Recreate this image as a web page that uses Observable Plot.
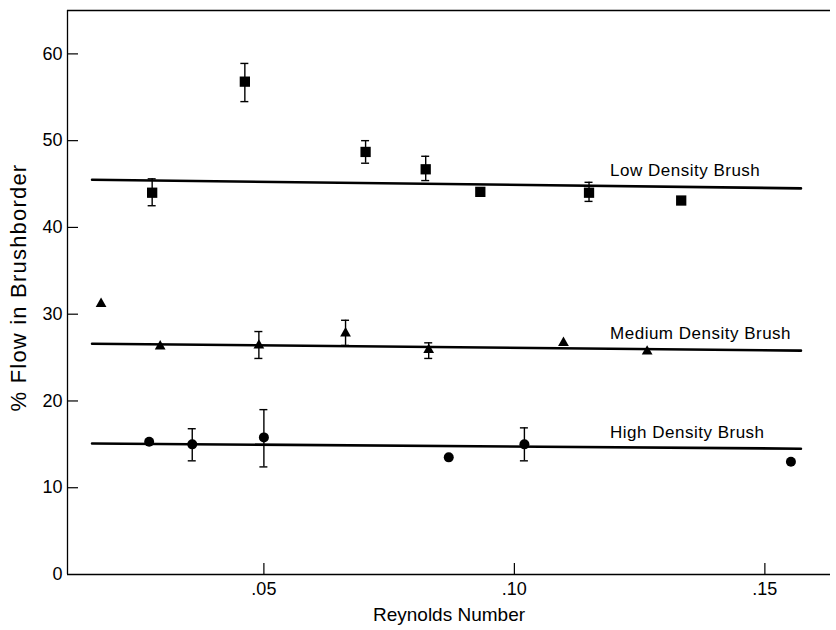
<!DOCTYPE html>
<html>
<head>
<meta charset="utf-8">
<script src="https://cdn.jsdelivr.net/npm/d3@7"></script>
<script src="https://cdn.jsdelivr.net/npm/@observablehq/plot@0.6"></script>
<style>
  html, body { margin: 0; padding: 0; background: #fff; }
  svg { font-family: "Liberation Sans", Arial, Helvetica, sans-serif; }
</style>
</head>
<body>
<div id="chart"></div>
<script>
// ---- data (Reynolds number, % flow in brushborder) ----
const lowRe    = [0.0277, 0.0462, 0.0703, 0.0823, 0.0932, 0.1149, 0.1333];
const lowFlow  = [44.0, 56.8, 48.7, 46.7, 44.1, 44.0, 43.1];
const lowErrLo = [42.5, 54.5, 47.4, 45.4, null, 43.0, null];
const lowErrHi = [45.6, 58.9, 50.0, 48.2, null, 45.2, null];

const medRe    = [0.0175, 0.0293, 0.0490, 0.0663, 0.0829, 0.1098, 0.1265];
const medFlow  = [31.2, 26.3, 26.4, 27.8, 25.9, 26.7, 25.7];
const medErrLo = [null, null, 24.9, 26.4, 24.9, null, null];
const medErrHi = [null, null, 28.0, 29.3, 26.7, null, null];

const highRe    = [0.0271, 0.0357, 0.0500, 0.0869, 0.1020, 0.1552];
const highFlow  = [15.3, 15.0, 15.8, 13.5, 15.0, 13.0];
const highErrLo = [null, 13.1, 12.4, null, 13.1, null];
const highErrHi = [null, 16.8, 19.0, null, 16.9, null];

// fitted lines: [start, end]
const fitRe   = [0.0157, 0.1572];
const lowFit  = [45.5, 44.5];
const medFit  = [26.6, 25.8];
const highFit = [15.1, 14.5];

const seriesNames = ["Low Density Brush", "Medium Density Brush", "High Density Brush"];
const labelRe = 0.1191;
const yTitle = "% Flow in Brushborder";
const xTitle = "Reynolds Number";

const xTicks = [0.05, 0.10, 0.15];
const xTickLabels = [".05", ".10", ".15"];
const yTicks = [0, 10, 20, 30, 40, 50, 60];
const xDomain = [0.0108, 0.1631];
const yDomain = [0, 65];

// ---- build tables ----
const mk = (re, f, lo, hi) => re.map((x, i) => ({x, y: f[i], lo: lo[i], hi: hi[i]}));
const low = mk(lowRe, lowFlow, lowErrLo, lowErrHi);
const med = mk(medRe, medFlow, medErrLo, medErrHi);
const high = mk(highRe, highFlow, highErrLo, highErrHi);
const errs = [...low, ...med, ...high].filter(d => d.lo != null);
const fits = [lowFit, medFit, highFit].map((f, k) => fitRe.map((x, i) => ({x, y: f[i], k})));
const fitAt = (f, x) => f[0] + (f[1] - f[0]) * (x - fitRe[0]) / (fitRe[1] - fitRe[0]);
const labels = [lowFit, medFit, highFit].map((f, k) => ({x: labelRe, y: fitAt(f, labelRe), text: seriesNames[k]}));

const W = 836, H = 630;
const mL = 67, mT = 10, mB = 56, mR = 6;
const plotH = H - mT - mB, plotW = W - mL - mR;

const chart = Plot.plot({
  width: W, height: H,
  marginLeft: mL, marginTop: mT, marginBottom: mB, marginRight: mR,
  style: {fontFamily: '"Liberation Sans", Arial, Helvetica, sans-serif', color: "#000", background: "#fff"},
  x: {domain: xDomain},
  y: {domain: yDomain},
  marks: [
    // frame lines (left, bottom, top)
    Plot.ruleX([xDomain[0]], {stroke: "#000", strokeWidth: 1.3}),
    Plot.ruleY([yDomain[0], yDomain[1]], {stroke: "#000", strokeWidth: 1.3}),
    // inward ticks
    Plot.tickY(yTicks.slice(1), {y: d => d, insetRight: plotW - 11, stroke: "#000", strokeWidth: 1.2}),
    Plot.tickX(xTicks, {x: d => d, insetTop: plotH - 11, stroke: "#000", strokeWidth: 1.2}),
    // axes labels
    Plot.axisY(yTicks, {tickSize: 0, tickPadding: 5, fontSize: 18, label: null}),
    Plot.axisX(xTicks, {tickSize: 0, tickPadding: 8, fontSize: 18, label: null,
      tickFormat: d => xTickLabels[xTicks.indexOf(d)]}),
    Plot.text([xTitle], {frameAnchor: "bottom", dy: 46, fontSize: 19, fill: "#000"}),
    Plot.text([yTitle], {frameAnchor: "left", textAnchor: "middle", dx: -49, dy: -5,
      rotate: -90, fontSize: 22, fill: "#000"}),
    // fitted lines
    Plot.line(fits.flat(), {x: "x", y: "y", z: "k", stroke: "#000", strokeWidth: 2.6}),
    // error bars
    Plot.ruleX(errs, {x: "x", y1: "lo", y2: "hi", stroke: "#000", strokeWidth: 1.4}),
    Plot.ruleY(errs, {y: "lo", x1: "x", x2: "x", insetLeft: -4, insetRight: -4, stroke: "#000", strokeWidth: 1.4}),
    Plot.ruleY(errs, {y: "hi", x1: "x", x2: "x", insetLeft: -4, insetRight: -4, stroke: "#000", strokeWidth: 1.4}),
    // markers
    Plot.dot(low, {x: "x", y: "y", symbol: "square", r: 5.8, fill: "#000", stroke: "none"}),
    Plot.dot(med, {x: "x", y: "y", symbol: "triangle", r: 4, fill: "#000", stroke: "none"}),
    Plot.dot(high, {x: "x", y: "y", symbol: "circle", r: 5, fill: "#000", stroke: "none"}),
    // series labels
    Plot.text(labels, {x: "x", y: "y", text: "text", textAnchor: "start", dy: -15, fontSize: 17, fill: "#000"})
  ]
});
d3.select(chart).selectAll("text")
  .filter(function() { return seriesNames.includes(this.textContent); })
  .style("letter-spacing", "0.5px");
d3.select(chart).selectAll("text")
  .filter(function() { return this.textContent === yTitle; })
  .style("letter-spacing", "1.2px");
document.getElementById("chart").append(chart);
</script>
</body>
</html>
